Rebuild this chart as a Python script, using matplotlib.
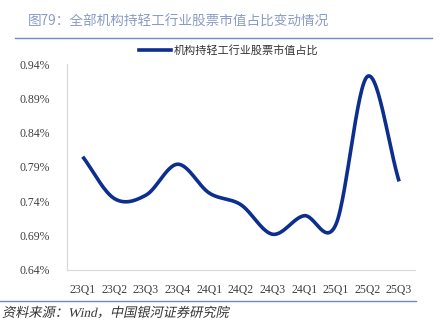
import matplotlib.pyplot as plt
import numpy as np
from matplotlib.lines import Line2D
from matplotlib.patches import PathPatch
from matplotlib.textpath import TextPath
from matplotlib.font_manager import FontProperties
from matplotlib.transforms import Affine2D

plt.rcParams['font.family'] = ['Liberation Serif', 'Noto Sans CJK SC', 'DejaVu Sans']

QUARTERS = ["23Q1", "23Q2", "23Q3", "23Q4", "24Q1", "24Q2",
            "24Q3", "24Q1", "25Q1", "25Q2", "25Q3"]
SHARE_PCT = [0.805, 0.744, 0.749, 0.794, 0.752, 0.735,
             0.692, 0.719, 0.706, 0.922, 0.769]
YTICKS = [0.64, 0.69, 0.74, 0.79, 0.84, 0.89, 0.94]

TITLE = "图79：全部机构持轻工行业股票市值占比变动情况"
LEGEND = "机构持轻工行业股票市值占比"
SOURCE = "资料来源：Wind，中国银河证券研究院"

LINE_COLOR = "#0c2f8f"
TITLE_COLOR = "#8a9bc6"
RULE_COLOR = "#6f8cc6"
SPINE_GRAY = "#d9d9d9"
TEXT_GRAY = "#404040"


def smooth(x, y, n=30):
    # Catmull-Rom style smoothing like spreadsheet "smoothed line"
    x = np.asarray(x, float)
    y = np.asarray(y, float)
    px = np.concatenate([[2 * x[0] - x[1]], x, [2 * x[-1] - x[-2]]])
    py = np.concatenate([[2 * y[0] - y[1]], y, [2 * y[-1] - y[-2]]])
    xs, ys = [], []
    t = np.linspace(0, 1, n)
    for i in range(1, len(px) - 2):
        p0, p1, p2, p3 = (np.array([px[j], py[j]]) for j in range(i - 1, i + 3))
        c1 = p1 + (p2 - p0) / 6
        c2 = p2 - (p3 - p1) / 6
        pts = ((1 - t) ** 3)[:, None] * p1 + (3 * (1 - t) ** 2 * t)[:, None] * c1 \
            + (3 * (1 - t) * t ** 2)[:, None] * c2 + (t ** 3)[:, None] * p2
        xs.append(pts[:, 0])
        ys.append(pts[:, 1])
    return np.concatenate(xs), np.concatenate(ys)


fig = plt.figure(figsize=(4.4, 3.3), dpi=100)
ax = fig.add_axes([0.152, 0.182, 0.791, 0.624])

idx = np.arange(len(QUARTERS))
sx, sy = smooth(idx, SHARE_PCT)
ax.plot(sx, sy, color=LINE_COLOR, lw=2.6, solid_capstyle="butt")

ax.set_xlim(-0.5, len(QUARTERS) - 0.5)
ax.set_ylim(0.64, 0.94)
ax.set_yticks(YTICKS)
ax.set_yticklabels([f"{v:.2f}%" for v in YTICKS])
ax.set_xticks(idx)
ax.set_xticklabels(QUARTERS)
ax.tick_params(length=0, labelsize=8.5, colors=TEXT_GRAY, pad=10)
ax.tick_params(axis="y", pad=12)
for side in ("top", "right"):
    ax.spines[side].set_visible(False)
for side in ("left", "bottom"):
    ax.spines[side].set_color(SPINE_GRAY)
    ax.spines[side].set_linewidth(0.9)

handle = Line2D([], [], color=LINE_COLOR, lw=2.6)
fig.legend([handle], [LEGEND], loc="center", bbox_to_anchor=(0.52, 0.848),
           frameon=False, prop={"family": "Noto Sans CJK SC", "size": 8},
           handlelength=2.9, handletextpad=0.2, labelcolor="#333333")

fig.text(0.064, 0.935, TITLE, color=TITLE_COLOR, fontsize=9.8,
         family="Noto Sans CJK SC", va="center")
fig.add_artist(Line2D([0.034, 0.982], [0.886, 0.886], color=RULE_COLOR, lw=1.0))
fig.add_artist(Line2D([0.0, 0.945], [0.088, 0.088], color=RULE_COLOR, lw=1.0))

# slanted source note (CJK fonts have no italic face, so shear the outline)
src_path = TextPath((0, 0), SOURCE, size=9.5 * 100 / 72,
                    prop=FontProperties(family=["Liberation Serif", "Noto Sans CJK SC"]))
shear = Affine2D().skew_deg(12, 0).translate(2, 330 * 0.052 - 4)
fig.add_artist(PathPatch(src_path, transform=shear, facecolor="#333333",
                         edgecolor="none"))

fig.savefig("out.png", dpi=100)
